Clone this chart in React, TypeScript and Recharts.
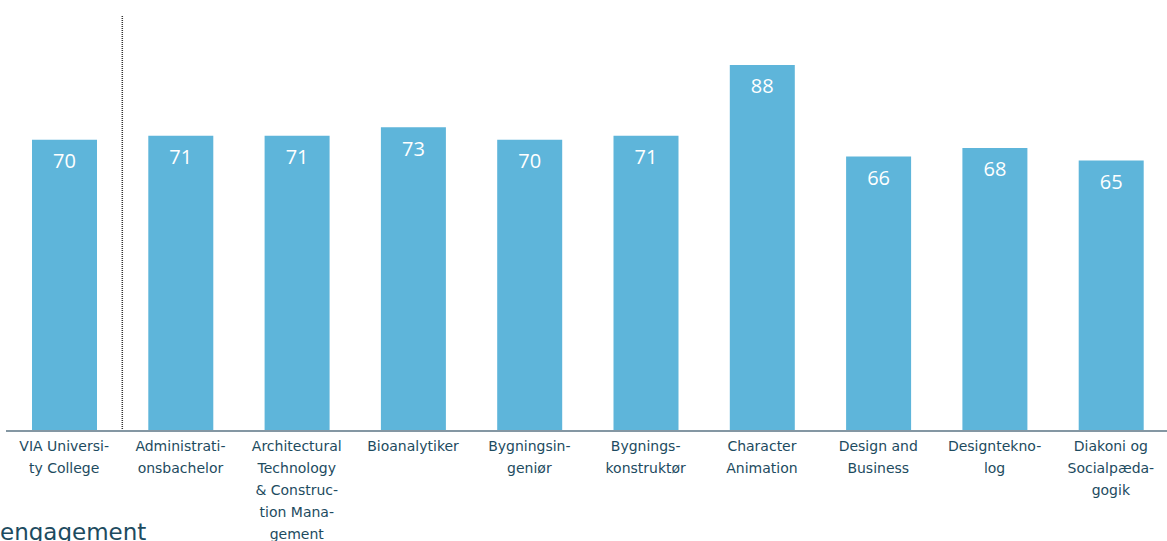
import React from 'react';
import { BarChart, Bar, XAxis, YAxis, LabelList, ReferenceLine } from 'recharts';

const categories = [
    'VIA University College',
    'Administrationsbachelor',
    'Architectural Technology & Construction Management',
    'Bioanalytiker',
    'Bygningsingeniør',
    'Bygningskonstruktør',
    'Character Animation',
    'Design and Business',
    'Designteknolog',
    'Diakoni og Socialpædagogik',
];

const tickLines: string[][] = [
    ['VIA Universi-', 'ty College'],
    ['Administrati-', 'onsbachelor'],
    ['Architectural', 'Technology', '& Construc-', 'tion Mana-', 'gement'],
    ['Bioanalytiker'],
    ['Bygningsin-', 'geniør'],
    ['Bygnings-', 'konstruktør'],
    ['Character', 'Animation'],
    ['Design and', 'Business'],
    ['Designtekno-', 'log'],
    ['Diakoni og', 'Socialpæda-', 'gogik'],
];

const scores = [70, 71, 71, 73, 70, 71, 88, 66, 68, 65];

const data = categories.map((name, i) => ({ name, score: scores[i] }));

const labelColor = '#1d4b60';
const tickFont = '"DejaVu Sans", sans-serif';

const MultiLineTick = (props: any) => {
    const { x, y, index } = props;
    const lines = tickLines[index] || [];
    return (
        <text x={x} y={y} textAnchor="middle" fill={labelColor} fontFamily={tickFont} fontSize={14}>
            {lines.map((line, i) => (
                <tspan key={i} x={x} y={y + 14 + i * 22}>{line}</tspan>
            ))}
        </text>
    );
};

const App = () => {
    return (
        <div style={{ position: 'absolute', left: 0, top: 0, width: 1167, height: 541, overflow: 'hidden', background: '#fff' }}>
            <BarChart
                width={1170}
                height={541}
                data={data}
                margin={{ top: 15, right: 1, bottom: 0, left: 6 }}
                barSize={65}
            >
                <YAxis hide domain={[0, 100]} />
                <XAxis
                    dataKey="name"
                    interval={0}
                    height={110}
                    tickLine={false}
                    tickSize={0}
                    tickMargin={6}
                    axisLine={{ stroke: '#8497a3', strokeWidth: 2 }}
                    tick={<MultiLineTick />}
                />
                <ReferenceLine
                    x="VIA University College"
                    position="end"
                    stroke="#333"
                    strokeDasharray="1 1"
                    strokeWidth={1.5}
                />
                <Bar dataKey="score" fill="#5eb5da" isAnimationActive={false}>
                    <LabelList
                        dataKey="score"
                        position="insideTop"
                        offset={14}
                        fill="#ffffff"
                        fontSize={20}
                        fontFamily='"Open Sans", sans-serif'
                    />
                </Bar>
            </BarChart>
            <div
                style={{
                    position: 'absolute',
                    left: 0,
                    top: 517,
                    fontFamily: tickFont,
                    fontSize: 23,
                    color: labelColor,
                    lineHeight: '30px',
                    whiteSpace: 'nowrap',
                }}
            >
                engagement
            </div>
        </div>
    );
};

export default App;
